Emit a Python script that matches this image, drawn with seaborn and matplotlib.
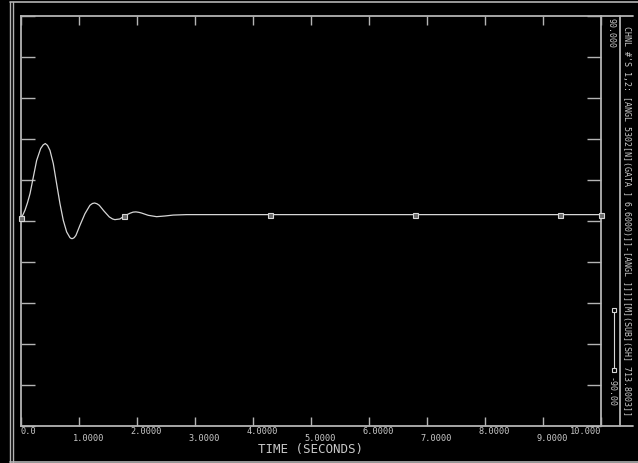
import matplotlib
matplotlib.use("Agg")
import matplotlib.pyplot as plt
import matplotlib.transforms as mtransforms
from matplotlib.lines import Line2D
import pandas as pd
import seaborn as sns

# Channel response: angle (deg) against time (s)
time_s = [0.0, 0.040, 0.077, 0.120, 0.164, 0.221, 0.278, 0.347, 0.390, 0.427,
          0.465, 0.508, 0.565, 0.622, 0.680, 0.737, 0.795, 0.852, 0.876, 0.898,
          0.925, 0.955, 1.024, 1.110, 1.196, 1.240, 1.277, 1.315, 1.357, 1.437,
          1.529, 1.585, 1.626, 1.713, 1.781, 1.885, 1.940, 1.988, 2.040, 2.085,
          2.200, 2.344, 2.487, 2.630, 2.860, 3.300, 4.290, 5.500, 6.790, 8.000,
          9.300, 10.0]
angle_deg = [1.3, 2.6, 4.7, 8.0, 12.0, 19.3, 26.6, 31.8, 33.4, 34.0,
             33.2, 31.0, 25.2, 16.4, 7.6, 0.3, -4.8, -7.3, -7.7, -7.7,
             -7.3, -6.3, -1.9, 3.2, 6.9, 7.7, 7.9, 7.6, 6.9, 4.4,
             1.8, 0.9, 0.6, 0.9, 2.1, 3.4, 3.9, 4.0, 3.8, 3.5,
             2.5, 1.9, 2.2, 2.6, 2.8, 2.8, 2.8, 2.8, 2.8, 2.8,
             2.8, 2.8]
marker_times = [0.0, 1.781, 4.290, 6.790, 9.300, 10.0]

xtick_values = [0, 1, 2, 3, 4, 5, 6, 7, 8, 9, 10]
xtick_labels = ["0.0", "1.0000", "2.0000", "3.0000", "4.0000", "5.0000",
                "6.0000", "7.0000", "8.0000", "9.0000", "10.000"]
ytick_values = [-90, -72, -54, -36, -18, 0, 18, 36, 54, 72, 90]
scale_labels = ["90.000", "-90.00"]
axis_title = "TIME (SECONDS)"
channel_title = ("CHNL #'S 1,2: [ANGL 5302[N](GATA ] 6.6000)]]-"
                 "[ANGL ]]]][M](SUB](SH] 713.8003]]")

BG = "black"
FRAME = "#b4b4b4"
CURVE = "#d6d6d6"
TEXT = "#c8c8c8"
MONO = "DejaVu Sans Mono"

sns.set_theme(style="dark", rc={"axes.facecolor": BG, "figure.facecolor": BG,
                                "axes.edgecolor": FRAME, "axes.grid": False})
plt.rcParams["font.family"] = [MONO, "DejaVu Sans"]

W, H = 638, 463
fig = plt.figure(figsize=(W / 100, H / 100), dpi=100, facecolor=BG)


def fx(px):
    return px / W


def fy(py):
    return 1 - py / H


L, R, T, B = 20.5, 601.0, 16.0, 426.0
ax = fig.add_axes([fx(L), fy(B), fx(R) - fx(L), fy(T) - fy(B)])
ax.set_facecolor(BG)

df = pd.DataFrame({"t": time_s, "angle": angle_deg})
mark_idx = [time_s.index(t) for t in marker_times]
sns.lineplot(data=df, x="t", y="angle", ax=ax, color=CURVE, linewidth=0.9,
             marker="s", markevery=mark_idx, markersize=3.6,
             markerfacecolor="#6a6a6a", markeredgecolor=CURVE,
             markeredgewidth=0.8, clip_on=False, zorder=5)

ax.set_xlim(0, 10)
ax.set_ylim(-90, 90)
ax.set_xticks(xtick_values)
ax.set_yticks(ytick_values)
ax.set_xlabel("")
ax.set_ylabel("")
ax.tick_params(axis="x", direction="in", top=True, bottom=True, length=6.8,
               width=1.0, color=FRAME, labelbottom=False, labeltop=False)
ax.tick_params(axis="y", direction="in", left=True, right=True, length=10,
               width=1.0, color=FRAME, labelleft=False, labelright=False)
for sp in ax.spines.values():
    sp.set_color(FRAME)
    sp.set_linewidth(1.3)

# Staggered time labels under the axis
n = len(xtick_values)
for i, (v, lab) in enumerate(zip(xtick_values, xtick_labels)):
    if i == 0:
        ha, dx = "left", 0.0
    elif i == n - 1:
        ha, dx = "right", 0.0
    else:
        ha, dx = "left", -6.0
    dy = -5.7 if i % 2 == 0 else -12.7
    trans = ax.get_xaxis_transform() + mtransforms.ScaledTranslation(
        dx / 100, dy / 100, fig.dpi_scale_trans)
    ax.text(v, 0, lab, transform=trans, ha=ha, va="center", fontsize=6.2,
            color=TEXT, family=MONO)

fig.text(fx(310), fy(450), axis_title, ha="center", va="center",
         fontsize=9, color=TEXT, family=MONO)

# Scale panel to the right of the plot
def seg(x0, y0, x1, y1, **kw):
    fig.add_artist(Line2D([fx(x0), fx(x1)], [fy(y0), fy(y1)],
                          transform=fig.transFigure, color=FRAME, **kw))


seg(R, T, 633, T, linewidth=1.3)
seg(R, B, 633, B, linewidth=1.3)
seg(620, T, 620, B, linewidth=1.3)

fig.text(fx(611), fy(18), scale_labels[0], rotation=-90, ha="center",
         va="top", fontsize=6, color=TEXT, family=MONO)
fig.text(fx(611), fy(407), scale_labels[1], rotation=-90, ha="center",
         va="bottom", fontsize=6, color=TEXT, family=MONO)
fig.text(fx(626.5), fy(221), channel_title, rotation=-90, ha="center",
         va="center", fontsize=6, color=TEXT, family=MONO)

# Legend sample for the channel line
fig.add_artist(Line2D([fx(614), fx(614)], [fy(310), fy(370)],
                      transform=fig.transFigure, color=CURVE, linewidth=0.8,
                      marker="s", markersize=3.4, markerfacecolor=BG,
                      markeredgecolor=CURVE, markeredgewidth=0.8))

# Outer plotter frame
seg(10, 2, 638, 2, linewidth=1.2)
seg(10, 2, 10, 461.5, linewidth=1.0)
seg(12.5, 2, 12.5, 461.5, linewidth=1.0)
seg(10, 461.5, 638, 461.5, linewidth=1.2)

fig.savefig("out.png", dpi=100, facecolor=BG)
